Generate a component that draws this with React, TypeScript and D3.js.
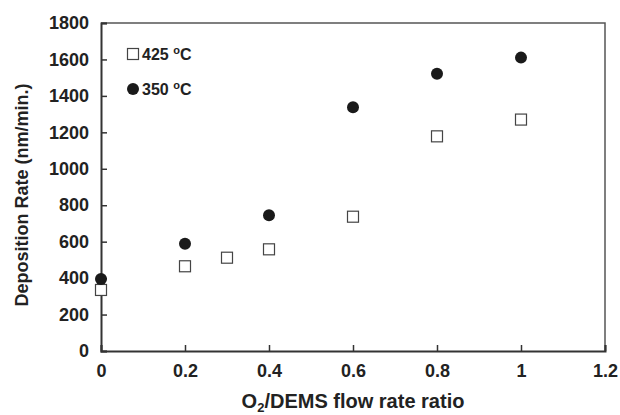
import React, { useEffect, useRef } from 'react';
import * as d3 from 'd3';

// O2/DEMS flow rate ratio vs deposition rate (nm/min.)
const ratio425 = [0, 0.2, 0.3, 0.4, 0.6, 0.8, 1.0];
const rate425 = [335, 465, 512, 558, 737, 1178, 1270];
const ratio350 = [0, 0.2, 0.4, 0.6, 0.8, 1.0];
const rate350 = [395, 588, 745, 1338, 1522, 1610];

const xTicks = [0, 0.2, 0.4, 0.6, 0.8, 1, 1.2];
const yTicks = [0, 200, 400, 600, 800, 1000, 1200, 1400, 1600, 1800];

const seriesLabels = ['425', '350'];

const FONT = '"Liberation Sans", Arial, Helvetica, sans-serif';
const AXIS = '#333';

export default function App() {
  const svgRef = useRef<SVGSVGElement | null>(null);
  const width = 620;
  const height = 415;

  useEffect(() => {
    if (!svgRef.current) return;
    const svg = d3.select(svgRef.current);
    svg.selectAll('*').remove();

    const margin = { top: 23, right: 15, bottom: 64, left: 101 };
    const innerW = width - margin.left - margin.right;
    const innerH = height - margin.top - margin.bottom;

    const x = d3.scaleLinear().domain([0, 1.2]).range([0, innerW]);
    const y = d3.scaleLinear().domain([0, 1800]).range([innerH, 0]);

    const g = svg.append('g').attr('transform', `translate(${margin.left},${margin.top})`);

    // frame (top + right)
    g.append('path')
      .attr('d', `M0,0H${innerW}V${innerH}`)
      .attr('fill', 'none')
      .attr('stroke', '#555')
      .attr('stroke-width', 1.5);

    // x axis, ticks pointing inward
    const xAxis = g.append('g')
      .attr('transform', `translate(0,${innerH})`)
      .call(d3.axisBottom(x).tickValues(xTicks).tickSize(-6).tickPadding(13)
        .tickFormat(d => d3.format('~g')(d as number)));
    xAxis.select('.domain').attr('stroke', AXIS).attr('stroke-width', 2);
    xAxis.selectAll('.tick line').attr('stroke', AXIS).attr('stroke-width', 1.5);
    xAxis.selectAll('text')
      .attr('fill', '#222')
      .attr('font-family', FONT)
      .attr('font-weight', 'bold')
      .attr('font-size', '18px');

    // y axis, ticks pointing inward
    const yAxis = g.append('g')
      .call(d3.axisLeft(y).tickValues(yTicks).tickSize(-6).tickPadding(12)
        .tickFormat(d3.format('d')));
    yAxis.select('.domain').attr('stroke', AXIS).attr('stroke-width', 2);
    yAxis.selectAll('.tick line').attr('stroke', AXIS).attr('stroke-width', 1.5);
    yAxis.selectAll('text')
      .attr('fill', '#222')
      .attr('font-family', FONT)
      .attr('font-weight', 'bold')
      .attr('font-size', '18px');

    // 425 °C squares
    const sq = 11;
    g.selectAll('.sq')
      .data(ratio425.map((r, i) => [r, rate425[i]]))
      .enter()
      .append('rect')
      .attr('x', d => x(d[0]) - sq / 2)
      .attr('y', d => y(d[1]) - sq / 2)
      .attr('width', sq)
      .attr('height', sq)
      .attr('fill', '#fff')
      .attr('stroke', '#444')
      .attr('stroke-width', 1.2);

    // 350 °C circles
    g.selectAll('.dot')
      .data(ratio350.map((r, i) => [r, rate350[i]]))
      .enter()
      .append('circle')
      .attr('cx', d => x(d[0]))
      .attr('cy', d => y(d[1]))
      .attr('r', 6)
      .attr('fill', '#1a1a1a');

    // legend
    const legend = svg.append('g').attr('transform', 'translate(133,54)');
    seriesLabels.forEach((lab, i) => {
      const row = legend.append('g').attr('transform', `translate(0,${i * 35})`);
      if (i === 0) {
        row.append('rect').attr('x', -5.5).attr('y', -5.5).attr('width', sq).attr('height', sq)
          .attr('fill', '#fff').attr('stroke', '#444').attr('stroke-width', 1.2);
      } else {
        row.append('circle').attr('r', 6).attr('fill', '#1a1a1a');
      }
      const t = row.append('text')
        .attr('x', 9)
        .attr('y', 6)
        .attr('font-family', FONT)
        .attr('font-weight', 'bold')
        .attr('font-size', '16px')
        .attr('fill', '#222');
      t.append('tspan').text(`${lab} `);
      t.append('tspan').attr('font-size', '11px').attr('dy', -6).text('o');
      t.append('tspan').attr('dy', 6).text('C');
    });

    // axis titles
    const xt = svg.append('text')
      .attr('x', margin.left + x(0.6))
      .attr('y', 408)
      .attr('text-anchor', 'middle')
      .attr('font-family', FONT)
      .attr('font-weight', 'bold')
      .attr('font-size', '20px')
      .attr('fill', '#222');
    xt.append('tspan').text('O');
    xt.append('tspan').attr('font-size', '13px').attr('dy', 4).text('2');
    xt.append('tspan').attr('dy', -4).text('/DEMS flow rate ratio');

    svg.append('text')
      .attr('transform', `translate(28,${margin.top + innerH / 2 + 8}) rotate(-90)`)
      .attr('text-anchor', 'middle')
      .attr('font-family', FONT)
      .attr('font-weight', 'bold')
      .attr('font-size', '18px')
      .attr('fill', '#222')
      .text('Deposition Rate (nm/min.)');
  }, []);

  return (
    <svg
      ref={svgRef}
      width={width}
      height={height}
      style={{ position: 'absolute', left: 0, top: 0, background: '#fff' }}
    />
  );
}
